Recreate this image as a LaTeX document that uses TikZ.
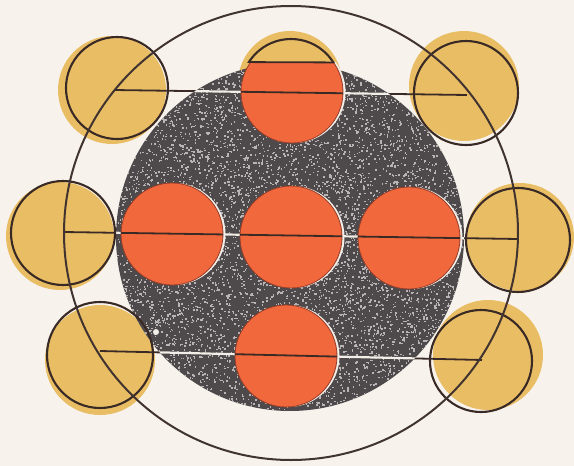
\documentclass[tikz,border=0pt]{standalone}
\usetikzlibrary{calc}
\definecolor{paper}{RGB}{247,243,236}
\definecolor{ochre}{RGB}{233,189,100}
\definecolor{ink}{RGB}{58,42,38}
\definecolor{orng}{RGB}{240,104,60}
\definecolor{orngedge}{RGB}{150,60,40}
\definecolor{darkdisc}{RGB}{78,74,76}
\definecolor{speckc}{RGB}{185,181,183}
\definecolor{chalk}{RGB}{242,238,232}
\tikzset{
  ochrefill/.style={fill=ochre},
  ringline/.style={draw=ink, line width=2.1pt},
  bigring/.style={draw=ink!90!gray, line width=2pt},
  orangedisc/.style={fill=orng, draw=orngedge, line width=0.8pt},
  crescent/.style={fill=chalk},
  chordline/.style={draw=ink, line width=1.8pt},
  whitechord/.style={draw=chalk, line width=2.2pt},
  speck/.style={fill=speckc}
}
\begin{document}
\begin{tikzpicture}[x=1pt,y=-1pt]
\useasboundingbox (0,0) rectangle (574,466);
\fill[paper] (0,0) rectangle (574,466);
% ochre fills
\fill[ochrefill] (112,90) circle (54);
\fill[ochrefill] (464,86) circle (55);
\fill[ochrefill] (60,236) circle (54);
\fill[ochrefill] (520,237) circle (54);
\fill[ochrefill] (100,360) circle (55);
\fill[ochrefill] (488,355) circle (55);
\fill[ochrefill] (290,83) circle (52);
% dark disc
\coordinate (D) at (290,237);
\fill[darkdisc] (D) circle (174);
\pgfmathsetseed{7}
\foreach \k in {1,2,3,4}{
\begin{scope}
  \clip (D) circle (174);
  \foreach \i in {1,...,1900}{
    \pgfmathsetmacro\xx{290+175*rand}
    \pgfmathsetmacro\yy{237+175*rand}
    \fill[speck] (\xx,\yy) rectangle ++(1.5,1.5);
  }
\end{scope}
}
% chords
\coordinate (T1) at (114,90);  \coordinate (T2) at (467,95);
\coordinate (M1) at (64,232);  \coordinate (M2) at (518,239);
\coordinate (B1) at (100,351); \coordinate (B2) at (482,360);
\draw[chordline] (T1) -- (T2);
\draw[chordline] (M1) -- (M2);
\draw[chordline] (B1) -- (B2);
\begin{scope}
  \clip (D) circle (174);
  \draw[whitechord] (T1) -- (T2);
  \draw[whitechord] (M1) -- (M2);
  \draw[whitechord] (B1) -- (B2);
\end{scope}
% orange discs with white crescent
\begin{scope}
  \clip (0,62) rectangle (574,466);
  \fill[crescent] (294.5,92) circle (51);
  \draw[orangedisc] (292,92) circle (51);
  \clip (292,92) circle (51);
  \draw[chordline] (T1) -- (T2);
\end{scope}
\foreach \cx/\cy/\ln in {172/234/M, 291/237/M, 409/238/M, 286/356/B}{
  \fill[crescent] (\cx+2.5,\cy) circle (51);
  \draw[orangedisc] (\cx,\cy) circle (51);
  \begin{scope}
    \clip (\cx,\cy) circle (51);
    \draw[chordline] (\ln1) -- (\ln2);
  \end{scope}
}
% top centre ochre ring, above its chord
\begin{scope}
  \clip (291,89) circle (50);
  \draw[chordline] (230,62) -- (350,62.5);
\end{scope}
\begin{scope}
  \clip (0,0) rectangle (574,62);
  \draw[ringline] (291,89) circle (50);
\end{scope}
% outer ochre rings
\draw[ringline] (117,88) circle (51);
\draw[ringline] (466,93) circle (52);
\draw[ringline] (63,233) circle (52);
\draw[ringline] (518,240) circle (52);
\draw[ringline] (100,355) circle (53);
\draw[ringline] (481,361) circle (51);
% big circle
\draw[bigring] (291,233) circle (227);
% small white spot
\fill[chalk] (156,332) circle (3);
\end{tikzpicture}
\end{document}
